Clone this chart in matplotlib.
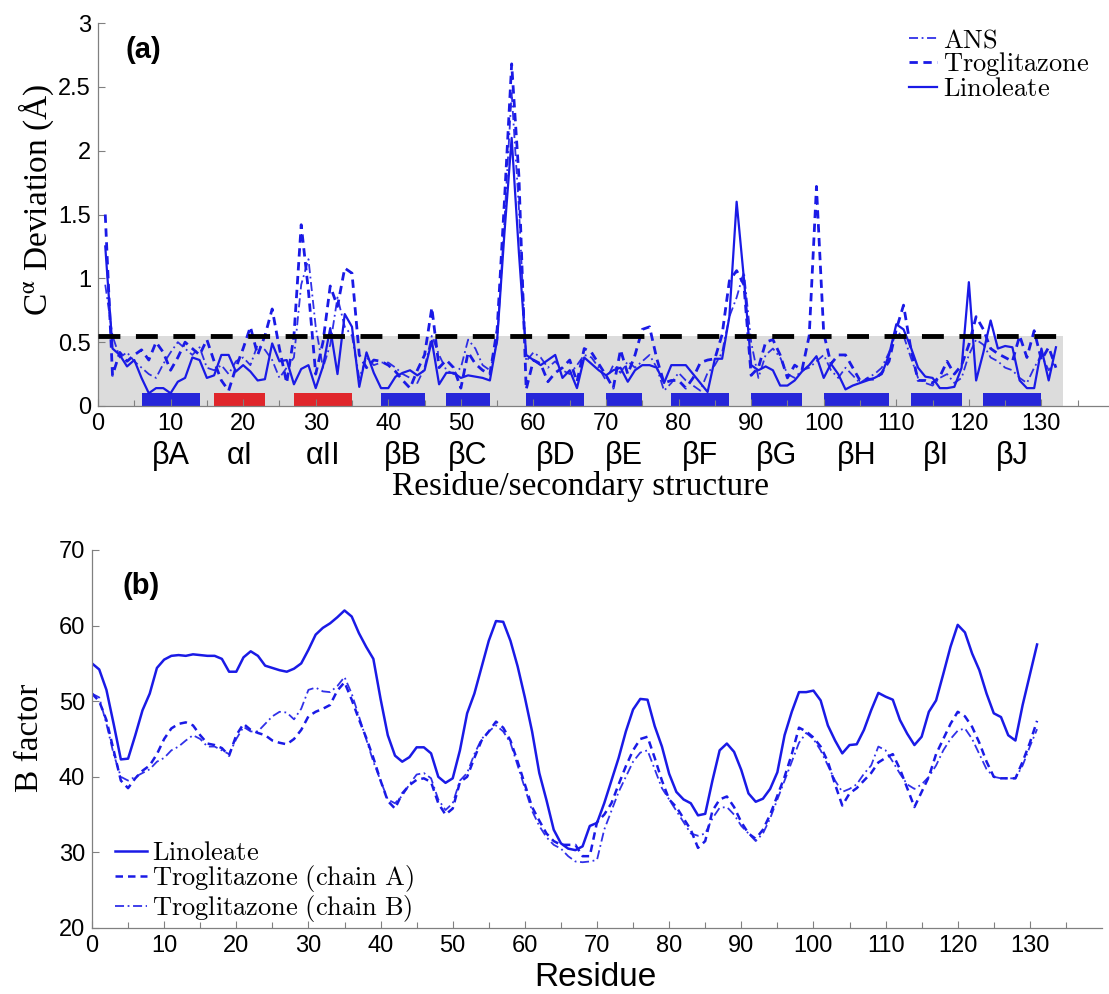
import numpy as np
import matplotlib
matplotlib.use('Agg')
import matplotlib.pyplot as plt
from matplotlib.ticker import MultipleLocator, FormatStrFormatter

plt.rcParams['font.family'] = ['Liberation Sans', 'DejaVu Sans']
plt.rcParams['mathtext.fontset'] = 'cm'

# ---------------- panel (a): C-alpha deviation per residue ----------------
res_a = np.arange(1, 133)

linoleate_a = [
    1.25, 0.45, 0.40, 0.31, 0.36, 0.22, 0.10, 0.14, 0.14, 0.10,
    0.19, 0.22, 0.38, 0.36, 0.22, 0.24, 0.40, 0.40, 0.27, 0.32,
    0.27, 0.20, 0.21, 0.49, 0.35, 0.36, 0.17, 0.29, 0.32, 0.14,
    0.31, 0.61, 0.25, 0.72, 0.62, 0.15, 0.42, 0.26, 0.14, 0.14,
    0.23, 0.26, 0.28, 0.24, 0.28, 0.51, 0.17, 0.26, 0.26, 0.22,
    0.24, 0.23, 0.22, 0.20, 0.52, 1.35, 2.10, 1.20, 0.40, 0.36,
    0.32, 0.36, 0.40, 0.22, 0.28, 0.14, 0.38, 0.33, 0.28, 0.24,
    0.28, 0.30, 0.19, 0.28, 0.32, 0.32, 0.30, 0.18, 0.32, 0.32,
    0.32, 0.25, 0.18, 0.11, 0.37, 0.37, 0.70, 1.60, 1.00, 0.32,
    0.28, 0.31, 0.28, 0.16, 0.16, 0.20, 0.27, 0.32, 0.39, 0.22,
    0.33, 0.25, 0.13, 0.16, 0.18, 0.20, 0.22, 0.25, 0.40, 0.64,
    0.60, 0.46, 0.30, 0.23, 0.22, 0.14, 0.14, 0.15, 0.30, 0.97,
    0.20, 0.42, 0.67, 0.45, 0.47, 0.46, 0.20, 0.14, 0.14, 0.45,
    0.20, 0.46]

troglitazone_a = [
    1.50, 0.24, 0.42, 0.35, 0.40, 0.44, 0.36, 0.50, 0.42, 0.28,
    0.38, 0.50, 0.45, 0.40, 0.52, 0.35, 0.20, 0.12, 0.30, 0.45,
    0.62, 0.40, 0.55, 0.76, 0.45, 0.18, 0.55, 1.42, 0.90, 0.25,
    0.50, 0.94, 0.78, 1.08, 1.04, 0.40, 0.30, 0.36, 0.35, 0.32,
    0.27, 0.20, 0.14, 0.28, 0.40, 0.77, 0.30, 0.36, 0.30, 0.14,
    0.42, 0.33, 0.28, 0.25, 0.60, 1.60, 2.68, 1.80, 0.13, 0.36,
    0.33, 0.19, 0.26, 0.30, 0.36, 0.19, 0.45, 0.42, 0.33, 0.24,
    0.14, 0.44, 0.25, 0.40, 0.60, 0.62, 0.37, 0.18, 0.20, 0.20,
    0.14, 0.22, 0.34, 0.36, 0.37, 0.56, 0.98, 1.06, 0.95, 0.24,
    0.30, 0.50, 0.52, 0.40, 0.22, 0.32, 0.28, 0.55, 1.72, 0.57,
    0.33, 0.40, 0.40, 0.30, 0.20, 0.21, 0.21, 0.26, 0.35, 0.60,
    0.79, 0.45, 0.20, 0.20, 0.18, 0.23, 0.35, 0.25, 0.32, 0.48,
    0.70, 0.60, 0.45, 0.41, 0.38, 0.35, 0.55, 0.38, 0.59, 0.36,
    0.46, 0.30]

ans_a = [
    0.95, 0.55, 0.38, 0.42, 0.35, 0.30, 0.25, 0.22, 0.33, 0.42,
    0.50, 0.45, 0.40, 0.46, 0.30, 0.28, 0.32, 0.25, 0.35, 0.38,
    0.32, 0.48, 0.44, 0.36, 0.22, 0.30, 0.38, 0.95, 1.15, 0.62,
    0.30, 0.48, 0.85, 0.62, 0.55, 0.22, 0.38, 0.32, 0.34, 0.34,
    0.30, 0.25, 0.22, 0.18, 0.30, 0.55, 0.40, 0.28, 0.25, 0.30,
    0.52, 0.45, 0.32, 0.28, 0.50, 1.45, 2.45, 1.55, 0.35, 0.42,
    0.38, 0.30, 0.35, 0.28, 0.25, 0.32, 0.40, 0.38, 0.30, 0.20,
    0.32, 0.26, 0.35, 0.30, 0.35, 0.40, 0.30, 0.12, 0.18, 0.26,
    0.20, 0.16, 0.12, 0.26, 0.32, 0.42, 0.70, 0.85, 1.05, 0.50,
    0.22, 0.40, 0.45, 0.38, 0.25, 0.22, 0.28, 0.30, 0.35, 0.40,
    0.28, 0.22, 0.30, 0.24, 0.18, 0.22, 0.25, 0.30, 0.42, 0.58,
    0.55, 0.38, 0.22, 0.18, 0.16, 0.22, 0.25, 0.18, 0.22, 0.40,
    0.52, 0.48, 0.38, 0.35, 0.30, 0.28, 0.22, 0.18, 0.30, 0.40,
    0.28, 0.35]

threshold = 0.55
shade_end = 133

# secondary structure elements (start, end residue)
ss_names = ['βA', 'αI', 'αII', 'βB', 'βC', 'βD', 'βE', 'βF', 'βG', 'βH', 'βI', 'βJ']
ss_start = [6, 16, 27, 39, 48, 59, 70, 79, 90, 100, 112, 122]
ss_end = [14, 23, 35, 45, 54, 67, 75, 87, 97, 109, 119, 130]

# ---------------- panel (b): B factor per residue ----------------
res_b = np.arange(0, 132)

linoleate_b = [
    55.0, 54.2, 51.5, 47.0, 42.3, 42.4, 45.5, 48.8, 51.0, 54.4,
    55.5, 56.0, 56.1, 56.0, 56.2, 56.1, 56.0, 56.0, 55.6, 53.9,
    53.9, 55.8, 56.6, 56.0, 54.7, 54.4, 54.1, 53.9, 54.3, 55.0,
    56.8, 58.8, 59.7, 60.3, 61.1, 62.0, 61.2, 59.0, 57.2, 55.6,
    50.3, 45.5, 42.8, 42.0, 42.6, 43.9, 43.9, 43.1, 40.0, 39.2,
    39.8, 43.5, 48.4, 51.0, 54.5, 58.0, 60.6, 60.5, 58.0, 54.6,
    50.5, 46.0, 40.5, 36.9, 33.0, 31.2, 30.5, 30.3, 30.8, 33.5,
    33.9, 36.5, 39.5, 42.5, 46.0, 48.9, 50.3, 50.2, 46.7, 44.0,
    40.4, 38.0, 37.0, 36.5, 34.9, 35.1, 39.5, 43.5, 44.4, 43.3,
    40.9, 37.8, 36.7, 37.1, 38.4, 40.6, 45.5, 48.6, 51.2, 51.2,
    51.4, 50.1, 46.8, 44.8, 43.1, 44.2, 44.3, 46.2, 48.8, 51.1,
    50.6, 50.2, 47.5, 45.7, 44.2, 45.3, 48.6, 50.1, 53.6, 57.2,
    60.1, 59.1, 56.3, 54.1, 51.0, 48.4, 47.9, 45.5, 44.8, 49.5,
    53.5, 57.5]

trog_chain_a = [
    51.0, 50.0, 47.5, 43.5, 39.5, 38.5, 39.8, 40.8, 41.5, 43.0,
    45.0, 46.4, 47.0, 47.2, 46.8, 45.5, 44.4, 44.2, 43.8, 42.8,
    45.5, 47.0, 46.2, 45.8, 45.5, 44.8, 44.5, 44.3, 45.0, 46.2,
    48.0, 48.6, 49.0, 49.5, 51.4, 52.5, 50.2, 47.6, 45.2, 42.5,
    39.5, 36.8, 35.8, 37.8, 38.9, 39.6, 39.8, 39.3, 36.5, 35.0,
    35.8, 39.3, 40.0, 42.5, 44.8, 46.0, 47.3, 46.5, 44.8, 42.0,
    39.0, 36.0, 34.2, 32.5, 31.5, 31.0, 31.0, 31.0, 29.5, 29.5,
    34.0, 35.0, 36.5, 39.0, 41.4, 43.5, 45.0, 45.3, 42.5, 39.5,
    37.0, 36.0, 34.5, 33.0, 30.6, 31.5, 35.5, 37.0, 37.4, 36.0,
    34.0, 32.5, 31.8, 33.0, 35.0, 37.5, 40.0, 43.0, 46.5, 46.0,
    45.2, 44.0, 42.0, 39.0, 36.2, 37.8, 38.5, 39.5, 40.5, 41.9,
    42.5, 43.0, 41.0, 38.5, 36.0, 38.0, 40.0, 43.0, 45.0, 47.0,
    48.6, 48.0, 46.6, 44.5, 42.0, 40.0, 39.8, 39.8, 39.8, 42.0,
    44.5, 47.4]

trog_chain_b = [
    51.0, 50.5, 47.0, 43.0, 40.0, 39.5, 40.0, 40.5, 41.0, 42.0,
    42.5, 43.5, 44.0, 44.8, 45.5, 45.0, 44.0, 44.0, 43.5, 43.0,
    45.0, 46.6, 46.0, 46.0, 47.0, 48.0, 48.6, 48.5, 47.6, 49.0,
    51.5, 51.8, 51.3, 51.2, 52.0, 53.2, 51.0, 48.0, 45.0, 42.0,
    39.5, 37.0, 36.5, 37.5, 39.0, 40.3, 40.5, 39.8, 37.0, 35.6,
    36.5, 39.5, 40.5, 43.0, 45.0, 46.0, 46.8, 46.0, 44.5, 41.5,
    38.5, 35.5, 33.5, 32.0, 31.0, 30.5, 29.5, 28.8, 28.7, 28.8,
    29.0, 33.0, 35.5, 38.0, 40.0, 42.0, 43.2, 43.5, 41.0, 38.5,
    37.0, 35.5, 34.0, 32.5, 32.2, 32.5, 34.5, 35.9, 36.0, 35.0,
    33.5, 32.5, 31.5, 32.5, 34.5, 37.0, 39.5, 42.0, 44.5, 45.8,
    45.0, 43.5, 41.5, 39.5, 38.0, 38.4, 39.0, 40.4, 41.5, 44.0,
    43.5, 42.0, 40.4, 39.0, 38.4, 39.0, 40.0, 41.5, 43.5, 45.0,
    46.1, 46.4, 45.0, 43.0, 41.0, 40.0, 39.8, 39.8, 39.8, 41.5,
    44.0, 46.3]

blue = '#1a1ae6'
W, H = 1109, 994

fig = plt.figure(figsize=(W / 100, H / 100), dpi=100)


def style_axis(ax):
    for s in ['top', 'right']:
        ax.spines[s].set_visible(False)
    for s in ['left', 'bottom']:
        ax.spines[s].set_color('#808080')
        ax.spines[s].set_linewidth(0.9)
    ax.tick_params(which='both', direction='in', color='#808080', width=0.8,
                   labelsize=17, pad=5)
    ax.tick_params(which='major', length=5)
    ax.tick_params(which='minor', length=4)
    ax.set_xticks(np.arange(0, 131, 10))
    ax.set_xticks(np.arange(5, 136, 10), minor=True)


# panel (a)
ax1 = fig.add_axes([98 / W, 1 - 406 / H, (1114 - 98) / W, 383 / H])
ax1.fill_between([0, shade_end], 0, threshold, color='#dcdcdc', lw=0, zorder=0)
for name, s, e in zip(ss_names, ss_start, ss_end):
    col = '#e0262b' if name.startswith('α') else '#2626d9'
    ax1.bar((s + e) / 2, 0.1, width=e - s, bottom=0, color=col, lw=0, zorder=1)
    ax1.text((s + e) / 2, -0.13, name, transform=ax1.get_xaxis_transform(),
             ha='center', va='center', fontsize=22)

l_lin, = ax1.plot(res_a, linoleate_a, color=blue, lw=1.6, zorder=3)
l_tro, = ax1.plot(res_a, troglitazone_a, color=blue, lw=2.0, dashes=(3, 2), zorder=3)
l_ans, = ax1.plot(res_a, ans_a, color=blue, lw=1.3, dashes=(5, 2, 1, 2), alpha=0.9, zorder=3)
ax1.plot([0, shade_end], [threshold, threshold], color='black', lw=3.5,
         dashes=(4.5, 3.2), zorder=4)

ax1.set_xlim(0, 140)
ax1.set_ylim(0, 3)
ax1.yaxis.set_major_locator(MultipleLocator(0.5))
ax1.yaxis.set_major_formatter(FormatStrFormatter('%g'))
style_axis(ax1)

ax1.text(0.027, 0.93, '(a)', transform=ax1.transAxes, fontsize=21,
         fontweight='bold', ha='left', va='center')
ax1.legend([l_ans, l_tro, l_lin],
           [r'$\mathrm{ANS}$', r'$\mathrm{Troglitazone}$', r'$\mathrm{Linoleate}$'],
           loc='upper left', bbox_to_anchor=(909 / W, 1 - 28 / H),
           bbox_transform=fig.transFigure, frameon=False, fontsize=19,
           handlelength=1.05, handletextpad=0.25, labelspacing=-0.06,
           borderpad=0, borderaxespad=0)

fig.text(580 / W, 1 - 486 / H, 'Residue/secondary structure', ha='center',
         va='center', fontsize=24, family='Liberation Serif')
fig.text(36 / W, 1 - 200 / H, r'C$^{\mathrm{α}}$ Deviation (Å)', ha='center',
         va='center', rotation=90, fontsize=24, family='Liberation Serif',
         math_fontfamily='stix')

# panel (b)
ax2 = fig.add_axes([92 / W, 1 - 928 / H, (1102 - 92) / W, 378 / H])
l_b1, = ax2.plot(res_b, linoleate_b, color=blue, lw=1.8)
l_b2, = ax2.plot(res_b, trog_chain_a, color=blue, lw=1.8, dashes=(3, 2))
l_b3, = ax2.plot(res_b, trog_chain_b, color=blue, lw=1.3, dashes=(5, 2, 1, 2), alpha=0.9)
ax2.set_xlim(0, 140)
ax2.set_ylim(20, 70)
ax2.yaxis.set_major_locator(MultipleLocator(10))
style_axis(ax2)
ax2.text(0.03, 0.905, '(b)', transform=ax2.transAxes, fontsize=21,
         fontweight='bold', ha='left', va='center')
ax2.legend([l_b1, l_b2, l_b3],
           [r'$\mathrm{Linoleate}$', r'$\mathrm{Troglitazone\ (chain\ A)}$',
            r'$\mathrm{Troglitazone\ (chain\ B)}$'],
           loc='upper left', bbox_to_anchor=(115 / W, 1 - 841 / H),
           bbox_transform=fig.transFigure, frameon=False, fontsize=19,
           handlelength=1.2, handletextpad=0.2, labelspacing=-0.06,
           borderpad=0, borderaxespad=0)

fig.text(595 / W, 1 - 977 / H, 'Residue', ha='center', va='center', fontsize=24)
fig.text(30 / W, 1 - 738 / H, 'B factor', ha='center', va='center',
         rotation=90, fontsize=24, family='Liberation Serif')

fig.savefig('out.png', dpi=100)
